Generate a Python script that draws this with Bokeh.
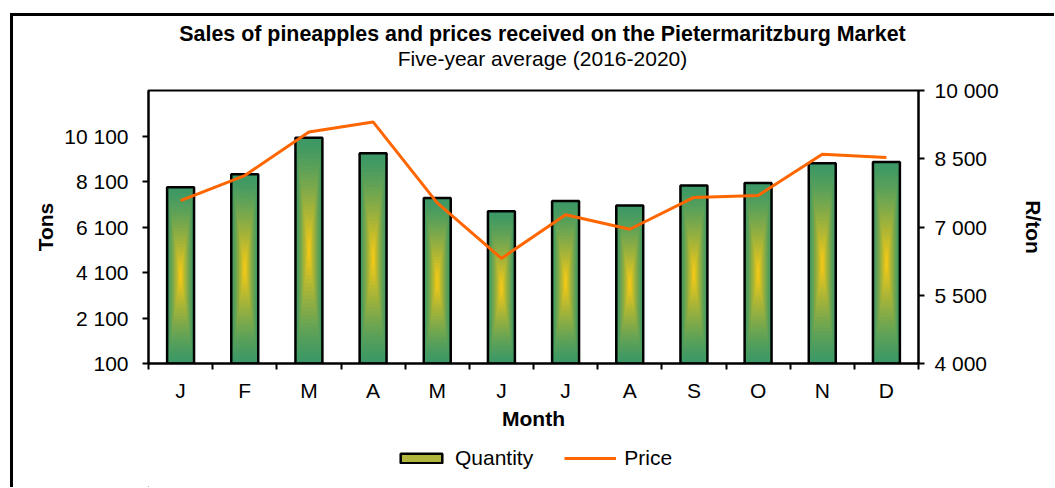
from bokeh.plotting import figure
from bokeh.layouts import column
from bokeh.models import (Range1d, LinearAxis, FixedTicker, Legend, LegendItem, Label,
                          ColumnDataSource)
from bokeh.embed import file_html
from bokeh.resources import INLINE

# ---------------- data ----------------
months = ["J", "F", "M", "A", "M", "J", "J", "A", "S", "O", "N", "D"]
quantity = [7850, 8420, 10020, 9340, 7380, 6790, 7240, 7050, 7920, 8030, 8900, 8960]
price = [7580, 8130, 9090, 9310, 7530, 6310, 7270, 6950, 7650, 7690, 8600, 8525]
tons_ticks = [100, 2100, 4100, 6100, 8100, 10100]
price_ticks = [4000, 5500, 7000, 8500, 10000]
title_text = "Sales of pineapples and prices received on the Pietermaritzburg Market"
subtitle_text = "Five-year average (2016-2020)"

FONT = "Liberation Sans"
FS = "21px"
GREEN = (60, 152, 102)
YELLOW = (255, 204, 18)
ORANGE = "#FF6600"
CANVAS_W = 1041

def fmt(v):
    return f"{v:,}".replace(",", " ")

def strip(h):
    f = figure(width=CANVAS_W, height=h, output_backend="svg", toolbar_location=None,
               x_range=Range1d(0, 770), y_range=Range1d(0, h),
               x_axis_location=None, y_axis_location=None,
               min_border_left=0, min_border_right=0, min_border_top=0, min_border_bottom=0)
    f.xgrid.visible = False
    f.ygrid.visible = False
    f.outline_line_color = None
    f.background_fill_color = "white"
    f.border_fill_color = "white"
    return f

xs = [i + 0.5 for i in range(len(months))]

# ---------------- title strip ----------------
top = strip(62)
top.add_layout(Label(x=394, y=45, text=title_text, text_align="center", text_baseline="middle",
                     text_font=FONT, text_font_size="21.4px", text_font_style="bold",
                     text_color="black"))
top.add_layout(Label(x=394, y=20, text=subtitle_text, text_align="center", text_baseline="middle",
                     text_font=FONT, text_font_size=FS, text_color="black"))

# ---------------- main chart ----------------
p = figure(frame_width=770, frame_height=273, output_backend="svg", toolbar_location=None,
           x_range=Range1d(0, 12), y_range=Range1d(100, 12100),
           min_border_left=135, min_border_right=136, min_border_top=12, min_border_bottom=68)
p.xgrid.visible = False
p.ygrid.visible = False
p.outline_line_color = "black"
p.outline_line_width = 2
p.background_fill_color = "white"
p.border_fill_color = "white"

# gradient bars: nested rectangles from green edge to yellow centre
BAR_W = 0.42
K = 28
base = 100
for k in range(K):
    t = k / K
    s = 1 - t
    tc = t ** 1.3
    c = tuple(int(round(GREEN[j] + (YELLOW[j] - GREEN[j]) * tc)) for j in range(3))
    color = "#%02x%02x%02x" % c
    mids = [(base + q) / 2 for q in quantity]
    halfs = [(q - base) / 2 * s for q in quantity]
    src = ColumnDataSource(dict(x=xs, bottom=[m - h for m, h in zip(mids, halfs)],
                                top=[m + h for m, h in zip(mids, halfs)]))
    p.vbar(x="x", bottom="bottom", top="top", width=BAR_W * s, source=src,
           fill_color=color, line_color=None)

p.vbar(x=xs, bottom=base, top=quantity, width=BAR_W,
       fill_color=None, line_color="black", line_width=2.5)

# price line on secondary axis
p.extra_y_ranges = {"price": Range1d(4000, 10000)}
p.line(xs, price, y_range_name="price", line_color=ORANGE, line_width=3)

# x axis
xa = p.xaxis[0]
xa.ticker = FixedTicker(ticks=xs, minor_ticks=list(range(13)))
xa.major_label_overrides = {x: m for x, m in zip(xs, months)}
xa.major_tick_out = 0
xa.major_tick_in = 0
xa.minor_tick_out = 6
xa.minor_tick_in = 0
xa.minor_tick_line_width = 2
xa.minor_tick_line_color = "black"
xa.axis_line_width = 2
xa.axis_line_color = "black"
xa.major_label_standoff = 9
xa.major_label_text_font = FONT
xa.major_label_text_font_size = FS
xa.major_label_text_color = "black"
xa.axis_label = "Month"
xa.axis_label_text_font = FONT
xa.axis_label_text_font_size = FS
xa.axis_label_text_font_style = "bold"
xa.axis_label_text_color = "black"
xa.axis_label_standoff = 2

# left axis
ya = p.yaxis[0]
ya.ticker = FixedTicker(ticks=tons_ticks, minor_ticks=[])
ya.major_label_overrides = {v: fmt(v) for v in tons_ticks}
ya.major_tick_out = 6
ya.major_tick_in = 0
ya.major_tick_line_width = 2
ya.axis_line_width = 2
ya.axis_line_color = "black"
ya.major_label_standoff = 14
ya.major_label_text_font = FONT
ya.major_label_text_font_size = FS
ya.major_label_text_color = "black"
ya.axis_label = "Tons"
ya.axis_label_text_font = FONT
ya.axis_label_text_font_size = FS
ya.axis_label_text_font_style = "bold"
ya.axis_label_text_color = "black"
ya.axis_label_standoff = 4

# right axis
ra = LinearAxis(y_range_name="price", ticker=FixedTicker(ticks=price_ticks, minor_ticks=[]))
ra.major_label_overrides = {v: fmt(v) for v in price_ticks}
ra.major_tick_out = 6
ra.major_tick_in = 0
ra.major_tick_line_width = 2
ra.axis_line_width = 2
ra.axis_line_color = "black"
ra.major_label_standoff = 10
ra.major_label_text_font = FONT
ra.major_label_text_font_size = FS
ra.major_label_text_color = "black"
ra.axis_label = "R/ton"
ra.axis_label_text_font = FONT
ra.axis_label_text_font_size = FS
ra.axis_label_text_font_style = "bold"
ra.axis_label_text_color = "black"
ra.axis_label_standoff = 20
p.add_layout(ra, "right")

# ---------------- legend strip ----------------
lg = strip(55)
q_proxy = lg.vbar(x=[-1000], bottom=[-1000], top=[-999], width=1,
                  fill_color="#b3b63c", line_color="black", line_width=2.5)
p_proxy = lg.line(x=[-1000, -999], y=[-1000, -1000], line_color=ORANGE, line_width=3)

legend = Legend(items=[LegendItem(label="Quantity", renderers=[q_proxy]),
                       LegendItem(label="Price", renderers=[p_proxy])],
                orientation="horizontal", location=(247, 17),
                label_text_font=FONT, label_text_font_size=FS, label_text_color="black",
                glyph_width=52, glyph_height=12, label_standoff=8, spacing=31,
                border_line_alpha=0, background_fill_alpha=0, padding=0, margin=0)
lg.add_layout(legend, "center")

layout = column(top, p, lg, spacing=0,
                styles={"margin-left": "10px", "margin-top": "13px",
                        "border-left": "3px solid black", "border-top": "3px solid black"})

open("out.html", "w").write(file_html(layout, INLINE))
